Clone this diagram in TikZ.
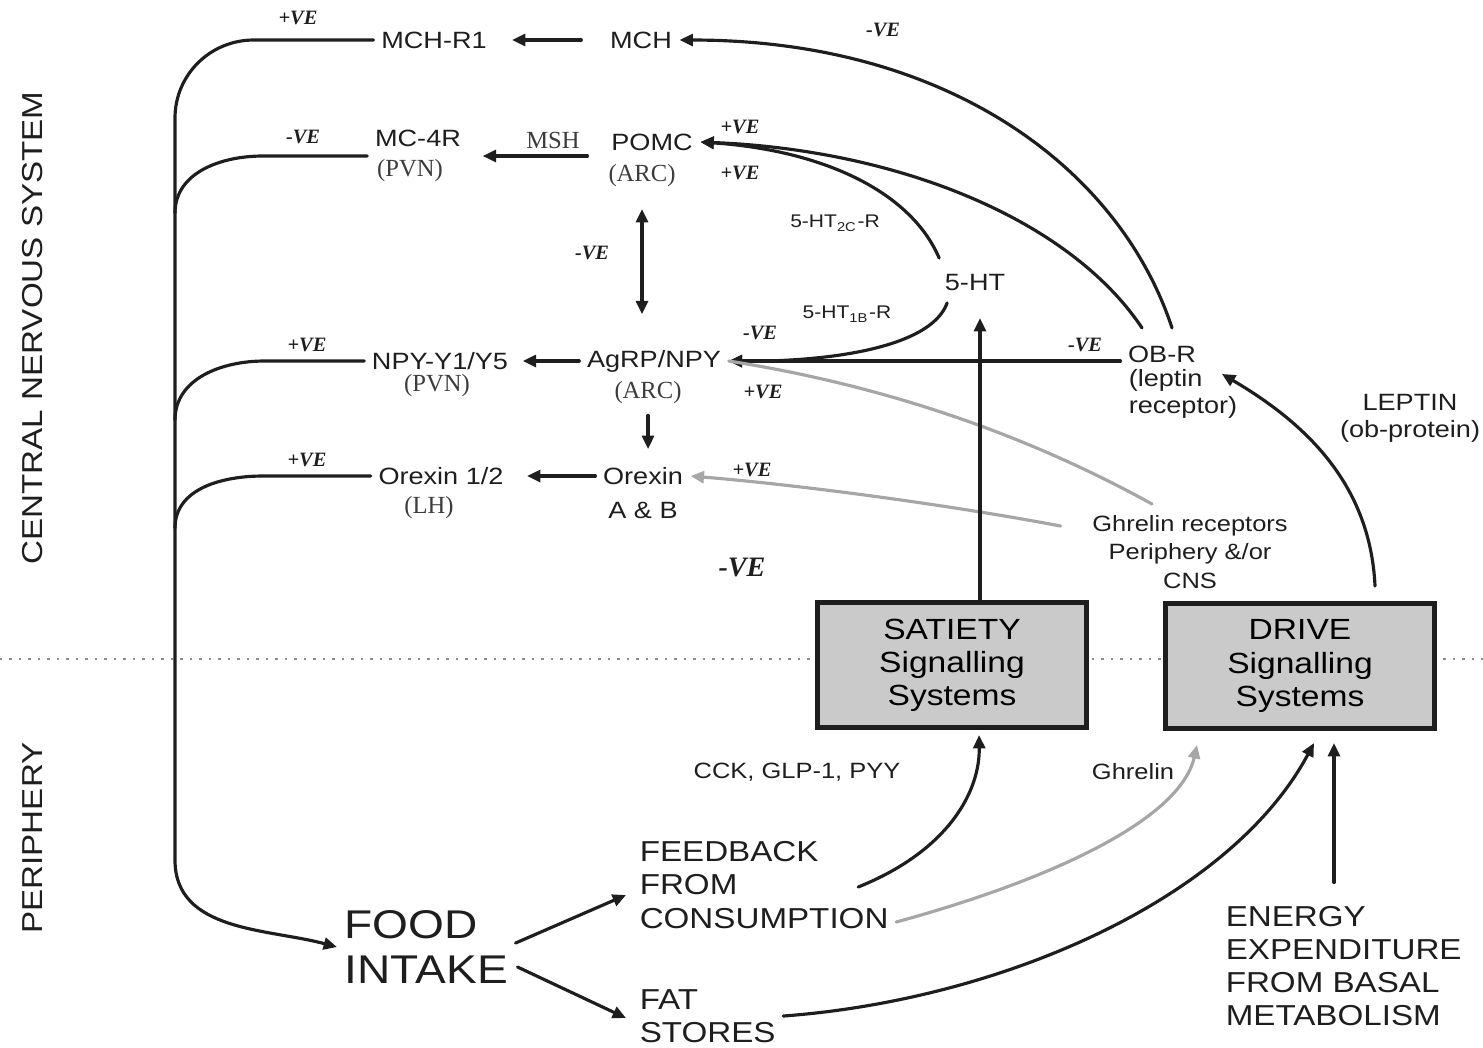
\documentclass[tikz,border=0pt]{standalone}
\usepackage{fontspec}
\setmainfont{Liberation Sans}[FakeStretch=1.15]
\newfontfamily\serf{Liberation Serif}
\usepackage{tikz}
\usetikzlibrary{calc,arrows.meta}
\definecolor{ink}{HTML}{1E1E1E}
\definecolor{soft}{HTML}{3C3C3C}
\definecolor{ghr}{HTML}{A6A6A6}
\definecolor{boxfill}{HTML}{CACACA}
\definecolor{rule}{HTML}{8C8C8C}
\tikzset{
  ln/.style={draw=ink, line width=0.9pt, line cap=round, line join=round},
  arr/.style={ln, -{Triangle[length=3.8pt,width=3.4pt]}},
  dbl/.style={ln, {Triangle[length=3.8pt,width=3.4pt]}-{Triangle[length=3.8pt,width=3.4pt]}},
  grey/.style={draw=ghr, line width=0.9pt, line cap=round},
  greyarr/.style={grey, -{Triangle[length=3.8pt,width=3.4pt]}},
  lab/.style={text=ink, inner sep=2pt, font=\fontsize{6.7}{7.6}\selectfont},
  note/.style={text=ink, inner sep=2pt, font=\fontsize{6.3}{8}\selectfont},
  small/.style={text=ink, inner sep=1pt, font=\fontsize{5.2}{6}\selectfont},
  ser/.style={text=soft, inner sep=2pt, font=\serf\fontsize{7}{8}\selectfont},
  ve/.style={text=ink, inner sep=1pt, font=\serf\bfseries\itshape\fontsize{5.8}{7}\selectfont},
  caps/.style={text=ink, inner sep=2pt, align=left, font=\fontsize{8.2}{9.4}\selectfont},
  sysbox/.style={draw=ink, line width=1.4pt, fill=boxfill, minimum width=2.68cm,
    minimum height=1.25cm, align=center, font=\fontsize{8.3}{9.4}\selectfont},
}

\begin{document}
\begin{tikzpicture}[x=0.01cm, y=-0.01cm]
  \useasboundingbox (0,0) rectangle (1483,1047);
  % CNS / periphery divide
  \draw[draw=rule, dotted, line width=0.7pt] (0,659) -- (1483,659);
  \node[caps, rotate=90] (cns) at (33,328) {CENTRAL NERVOUS SYSTEM};
  \node[caps, rotate=90] (peri) at (33,838) {PERIPHERY};

  % hypothalamus
  \node[lab] (mchr1) at (434,40) {MCH-R1};
  \node[lab] (mch) at (641,40) {MCH};
  \node[lab] (mc4r) at (418,138) {MC-4R};
  \node[ser] (pvn1) at (410,171) {(PVN)};
  \node[ser] (msh) at (553,140) {MSH};
  \node[lab] (pomc) at (652,142) {POMC};
  \node[ser] (arc1) at (642,176) {(ARC)};
  \node[lab] (agrp) at (654,361) {AgRP/NPY};
  \node[ser] (arc2) at (648,393) {(ARC)};
  \node[lab] (npy) at (440,361) {NPY-Y1/Y5};
  \node[ser] (pvn2) at (437,386) {(PVN)};
  \node[lab] (orexin) at (643,476) {Orexin};
  \node[lab] (ab) at (643,510) {A \& B};
  \node[lab] (orx12) at (441,476) {Orexin 1/2};
  \node[ser] (lh) at (429,508) {(LH)};
  \node[lab] (ht) at (975,282) {5-HT};
  \node[small] (htc) at (835,223) {5-HT\textsubscript{2C}-R};
  \node[small] (htb) at (847,314) {5-HT\textsubscript{1B}-R};
  \node[lab] (obr) at (1162,354) {OB-R};
  \node[lab, align=left, anchor=west] (obrsub) at (1121,394) {(leptin\\receptor)};
  \node[lab, align=center] (leptin) at (1410,418) {LEPTIN\\(ob-protein)};
  \node[note, align=center] (ghrec) at (1190,552) {Ghrelin receptors\\Periphery \&/or\\CNS};

  % signs
  \node[ve] (v1) at (298,18) {+VE};
  \node[ve] (v2) at (303,137) {-VE};
  \node[ve] (v3) at (307,345) {+VE};
  \node[ve] (v4) at (307,460) {+VE};
  \node[ve] (v5) at (883,30) {-VE};
  \node[ve] (v6) at (740,127) {+VE};
  \node[ve] (v7) at (740,173) {+VE};
  \node[ve] (v8) at (592,253) {-VE};
  \node[ve] (v9) at (760,333) {-VE};
  \node[ve] (v10) at (763,392) {+VE};
  \node[ve] (v11) at (1085,345) {-VE};
  \node[ve] (v12) at (752,470) {+VE};
  \node[ve, font=\serf\bfseries\itshape\fontsize{8}{9}\selectfont] (v13) at (742,567) {-VE};

  % signalling boxes
  \node[sysbox] (satiety) at (952,665) {SATIETY\\Signalling\\Systems};
  \node[sysbox] (drive) at (1300,666) {DRIVE\\Signalling\\Systems};

  % periphery
  \node[caps, anchor=west, font=\fontsize{11.4}{12.9}\selectfont] (food) at (337,947) {FOOD\\INTAKE};
  \node[caps, anchor=west] (feedback) at (632,885) {FEEDBACK\\FROM\\CONSUMPTION};
  \node[caps, anchor=west] (fat) at (632,1016) {FAT\\STORES};
  \node[caps, anchor=west] (energy) at (1218,966) {ENERGY\\EXPENDITURE\\FROM BASAL\\METABOLISM};
  \node[note] (cck) at (797,772) {CCK, GLP-1, PYY};
  \node[note] (ghrelin) at (1133,772) {Ghrelin};

  % output bus to food intake
  \draw[arr] (mchr1.west) -- ++(-120,0) to[out=180,in=90] (175,118) -- (175,860)
    to[out=-90,in=165] (food.west);
  \draw[ln] (msh.south east -| mc4r.west) -- ++(-105,0) to[out=180,in=90] (175,213);
  \draw[ln] (npy.west) -- ++(-100,0) to[out=180,in=90] (175,420);
  \draw[ln] (orx12.west) -- ++(-108,0) to[out=180,in=90] (175,528);

  \draw[arr, shorten <=6pt, shorten >=5pt] (mch.west) -- (mchr1.east);
  \draw[arr, shorten >=4pt] (msh.south east) -- (msh.south east -| mc4r.east);
  \draw[arr, shorten >=2pt] (agrp.west) -- (npy.east);
  \draw[arr, shorten >=4.5pt] (orexin.west) -- (orx12.east);
  \draw[dbl, shorten <=4pt, shorten >=8pt] (arc1.south) -- (arc1.south |- agrp.north);
  \draw[arr, shorten <=1pt, shorten >=3pt] (arc2.south) -- (arc2.south |- orexin.north);

  % serotonin
  \draw[arr] ($(ht.north west)+(2,-8)$) .. controls (910,190) and (820,150) .. (pomc.east);
  \draw[arr] ($(ht.south west)+(10,5)$) .. controls (930,350) and (820,362) .. (agrp.east);

  % leptin receptor
  \draw[arr] ($(obr.north)+(10,-10)$) .. controls (1120,170) and (950,40) .. (mch.east);
  \draw[arr] ($(obr.north)+(-20,-10)$) .. controls (1070,220) and (900,150) .. (pomc.east);
  \draw[arr] (obr.west |- agrp.east) -- (agrp.east);

  % ghrelin receptors
  \draw[grey] ($(ghrec.north)+(-38,-4)$) .. controls (1000,420) and (850,380) .. (agrp.east);
  \draw[greyarr] ($(ghrec.north west)+(-24,18)$) .. controls (950,505) and (800,485) .. (orexin.east);

  % box outputs
  \coordinate (httip) at (980,318);
  \draw[arr] (satiety.north -| httip) -- (httip);
  \draw[arr] ($(drive.north)+(75,-15)$) .. controls (1370,480) and (1300,420)
    .. ($(obrsub.north east)+(-23,12)$);

  % periphery inputs
  \draw[arr] ($(food.east)+(0,-4)$) -- ($(feedback.west)+(-6,10)$);
  \draw[arr] ($(food.east)+(2,20)$) -- ($(fat.west)+(-6,2)$);
  \draw[arr] ($(feedback.east)+(-38,2)$) .. controls (950,850) and (980,790)
    .. ($(satiety.south)+(27,5)$);
  \draw[greyarr] ($(feedback.south east)+(0,-14)$) .. controls (1050,880) and (1180,820)
    .. ($(drive.south)+(-103,14)$);
  \draw[arr] (fat.east) .. controls (1000,1000) and (1230,900) .. ($(drive.south)+(14,12)$);
  \coordinate (dtip) at ($(drive.south)+(34,12)$);
  \draw[arr] ($(energy.north -| dtip)+(0,-16)$) -- (dtip);
\end{tikzpicture}
\end{document}
